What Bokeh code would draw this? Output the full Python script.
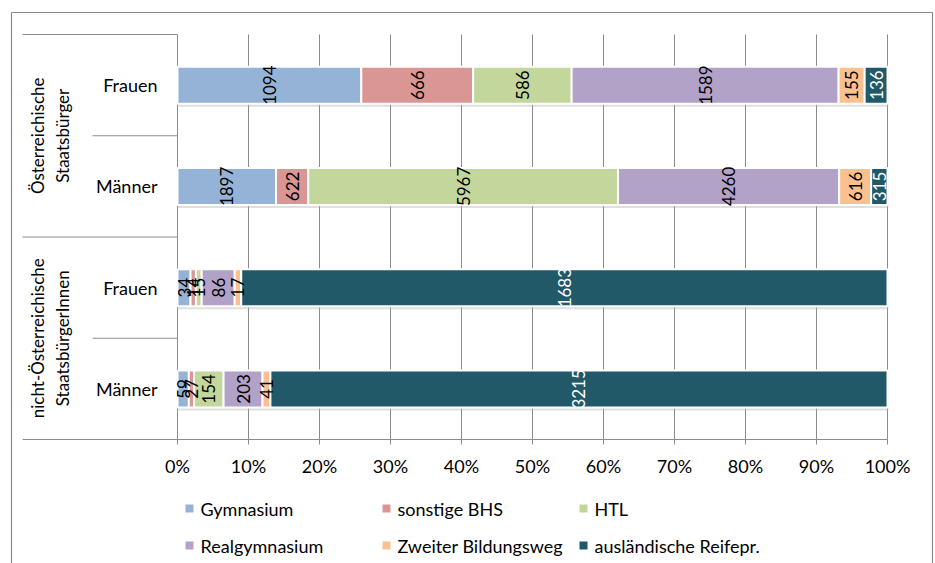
import numpy as np
from bokeh.plotting import figure
from bokeh.models import Range1d, ColumnDataSource
from bokeh.core.properties import value
from bokeh.embed import file_html
from bokeh.resources import INLINE

# ---------------- data ----------------
group_lines = [["Österreichische", "Staatsbürger"],
               ["nicht-Österreichische", "StaatsbürgerInnen"]]
categories = ["Frauen", "Männer", "Frauen", "Männer"]
series = ["Gymnasium", "sonstige BHS", "HTL", "Realgymnasium",
          "Zweiter Bildungsweg", "ausländische Reifepr."]
gymnasium = [1094, 1897, 34, 59]
sonstige_bhs = [666, 622, 14, 27]
htl = [586, 5967, 15, 154]
realgymnasium = [1589, 4260, 86, 203]
zweiter_bildungsweg = [155, 616, 17, 41]
auslaendische_reifepr = [136, 315, 1683, 3215]
tick_values = [0.0, 0.1, 0.2, 0.3, 0.4, 0.5, 0.6, 0.7, 0.8, 0.9, 1.0]
tick_labels = ["0%", "10%", "20%", "30%", "40%", "50%", "60%", "70%", "80%", "90%", "100%"]

colors = ["#95B3D7", "#D99694", "#C3D69B", "#B3A2C7", "#FAC090", "#215968"]
label_colors = ["#000000", "#000000", "#000000", "#000000", "#000000", "#FFFFFF"]

# ---------------- layout ----------------
W, H = 935, 563
X0, X1 = 177, 887          # pixel position of 0% and 100%
Y_TOP, Y_BOT = 34, 439     # plot area top / bottom (pixels from top)
ROW = (Y_BOT - Y_TOP) / 4.0
BAR_H = 37
FONT = value("Lato")
GRID = "#8C8C8C"


def fx(px):
    return (px - X0) / (X1 - X0)


def fy(py):
    return H - py


p = figure(width=W, height=H, output_backend="svg", toolbar_location=None,
           x_range=Range1d(fx(0), fx(W)), y_range=Range1d(0, H),
           min_border=0, min_border_left=0, min_border_right=0,
           min_border_top=0, min_border_bottom=0)
p.axis.visible = False
p.grid.visible = False
p.outline_line_color = None
p.background_fill_color = "white"
p.border_fill_color = "white"

# outer frame
p.segment(x0=[fx(11), fx(11), fx(932)], y0=[fy(12), fy(12), fy(12)],
          x1=[fx(932), fx(11), fx(932)], y1=[fy(12), fy(H), fy(H)],
          line_color="#8A8A8A", line_width=1.2)

# vertical gridlines (incl. axis at 0%)
p.segment(x0=tick_values, x1=tick_values, y0=[fy(Y_TOP)] * len(tick_values),
          y1=[fy(Y_BOT)] * len(tick_values), line_color=GRID, line_width=1)
# tick marks
p.segment(x0=tick_values, x1=tick_values, y0=[fy(Y_BOT)] * len(tick_values),
          y1=[fy(Y_BOT + 5)] * len(tick_values), line_color=GRID, line_width=1)
# bottom axis line
p.segment(x0=[fx(22)], x1=[1.0], y0=[fy(Y_BOT)], y1=[fy(Y_BOT)],
          line_color=GRID, line_width=1)
# group separators
gsep = [Y_TOP, Y_TOP + 2 * ROW]
p.segment(x0=[fx(22)] * 2, x1=[0.0] * 2, y0=[fy(v) for v in gsep],
          y1=[fy(v) for v in gsep], line_color=GRID, line_width=1)
# sub-category separators
ssep = [Y_TOP + ROW, Y_TOP + 3 * ROW]
p.segment(x0=[fx(92)] * 2, x1=[0.0] * 2, y0=[fy(v) for v in ssep],
          y1=[fy(v) for v in ssep], line_color=GRID, line_width=1)

# tick labels
p.text(x=tick_values, y=[fy(465)] * len(tick_values), text=tick_labels,
       text_font=FONT, text_font_size="18px", text_align="center",
       text_baseline="middle", text_color="#000000")

# ---------------- bars ----------------
vals = np.array([gymnasium, sonstige_bhs, htl, realgymnasium,
                 zweiter_bildungsweg, auslaendische_reifepr], dtype=float)
totals = vals.sum(axis=0)
frac = vals / totals
cum = np.cumsum(frac, axis=0)
lefts = cum - frac
row_y = [fy(Y_TOP + ROW * (i + 0.5)) for i in range(4)]

# shadow
p.hbar(y=[y - 3 for y in row_y], left=[0.0] * 4, right=[fx(X1 + 1)] * 4,
       height=BAR_H, fill_color="#B0B0B0", fill_alpha=0.4, line_color=None)

for s in range(len(series)):
    src = ColumnDataSource(dict(y=row_y, left=lefts[s], right=cum[s]))
    p.hbar(y="y", left="left", right="right", height=BAR_H, source=src,
           fill_color=colors[s], line_color="white", line_width=2)
for s in range(len(series)):
    src = ColumnDataSource(dict(y=row_y, mid=(lefts[s] + cum[s]) / 2,
                                lab=[str(int(v)) for v in vals[s]]))
    p.text(x="mid", y="y", text="lab", source=src, angle=np.pi / 2,
           text_font=FONT, text_font_size="17px", text_align="center",
           text_baseline="middle", text_color=label_colors[s])

# category labels
p.text(x=[fx(157)] * 4, y=row_y, text=categories, text_font=FONT,
       text_font_size="18px", text_align="right", text_baseline="middle",
       text_color="#000000")

# group labels (two lines, rotated)
gmid = [fy(Y_TOP + ROW), fy(Y_TOP + 3 * ROW)]
for li, xpx in enumerate([37, 62]):
    p.text(x=[fx(xpx)] * 2, y=gmid, text=[g[li] for g in group_lines],
           angle=np.pi / 2, text_font=FONT, text_font_size="17px",
           text_align="center", text_baseline="middle", text_color="#000000")

# ---------------- legend ----------------
leg_sq_x = [189, 386, 583, 189, 386, 583]
leg_y = [508, 508, 508, 545, 545, 545]
p.scatter(x=[fx(v) for v in leg_sq_x], y=[fy(v) for v in leg_y], marker="square",
          size=8, fill_color=colors, line_color=None)
p.text(x=[fx(v + 11) for v in leg_sq_x], y=[fy(v) for v in leg_y], text=series,
       text_font=FONT, text_font_size="18px", text_align="left",
       text_baseline="middle", text_color="#000000")

open("out.html", "w").write(file_html(p, INLINE))
